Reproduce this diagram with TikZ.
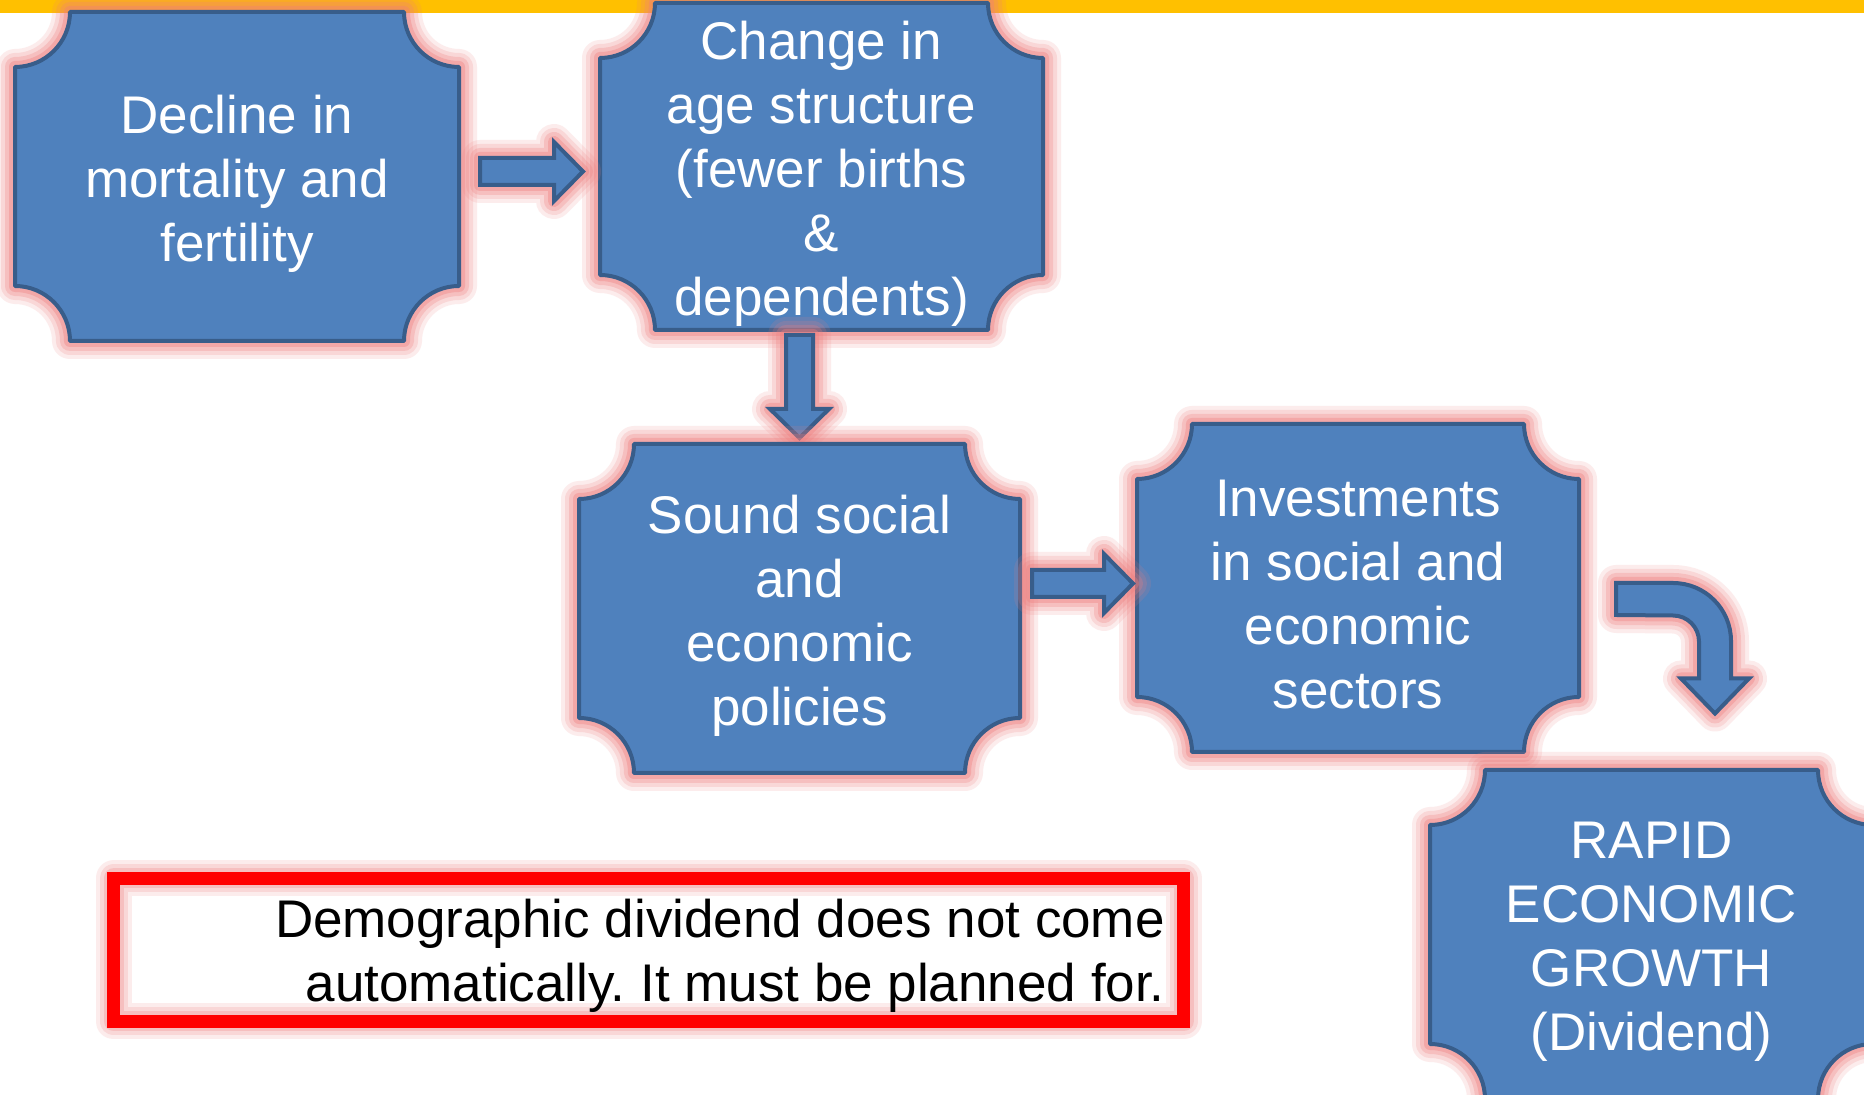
\documentclass[tikz,border=0pt]{standalone}
\usepackage{fontspec}
\setmainfont{Liberation Sans}
\usetikzlibrary{calc}
\frenchspacing
\definecolor{boxfill}{HTML}{4F81BD}
\definecolor{boxline}{HTML}{385D8A}
\definecolor{barc}{HTML}{FFC000}
\definecolor{glowc}{RGB}{238,125,125}
\newcommand{\plaquepath}[1]{([xshift=55pt]#1.north west) -- ([xshift=-55pt]#1.north east) arc[start angle=180,end angle=270,radius=55pt] -- ([yshift=55pt]#1.south east) arc[start angle=90,end angle=180,radius=55pt] -- ([xshift=55pt]#1.south west) arc[start angle=0,end angle=90,radius=55pt] -- ([yshift=-55pt]#1.north west) arc[start angle=270,end angle=360,radius=55pt] -- cycle}
\newcommand{\harrowpath}[2]{let \p1=(#1), \p2=(#2) in (\x1,\y2+13.5pt) -- (\x2-29pt,\y2+13.5pt) -- (\x2-29pt,\y2+29.5pt) -- (\x2,\y2) -- (\x2-29pt,\y2-29.5pt) -- (\x2-29pt,\y2-13.5pt) -- (\x1,\y2-13.5pt) -- cycle}
\newcommand{\varrowpath}[2]{let \p1=(#1), \p2=(#2) in (\x2-13.5pt,\y1) -- (\x2+13.5pt,\y1) -- (\x2+13.5pt,\y2+29pt) -- (\x2+29.5pt,\y2+29pt) -- (\x2,\y2) -- (\x2-29.5pt,\y2+29pt) -- (\x2-13.5pt,\y2+29pt) -- cycle}
\begin{document}
\begin{tikzpicture}[x=1pt,y=1pt,
  shapenode/.style={rectangle,inner sep=0pt,outer sep=0pt},
  boxshape/.style={fill=boxfill,draw=boxline,line width=4pt,line join=round},
  arrowshape/.style={fill=boxfill,draw=boxline,line width=4pt,line join=miter},
  glow/.style={
    preaction={draw=glowc,line width=36pt,opacity=0.14,line join=round},
    preaction={draw=glowc,line width=28pt,opacity=0.18,line join=round},
    preaction={draw=glowc,line width=20pt,opacity=0.26,line join=round},
    preaction={draw=glowc,line width=12pt,opacity=0.36,line join=round}},
  boxtext/.style={text=white,font=\fontsize{53}{64}\selectfont,align=center,inner sep=0pt},
  notetext/.style={text=black,font=\fontsize{53}{64}\selectfont,align=right,inner sep=0pt}]
\useasboundingbox (0,0) rectangle (1864,1095);
\clip (0,0) rectangle (1864,1095);
\fill[white] (0,0) rectangle (1864,1095);
\fill[barc] (0,1082.3) rectangle (1864,1095);
% shape nodes
\node[shapenode,minimum width=444pt,minimum height=329pt] (b1) at (237,918.5) {};
\node[shapenode,minimum width=443pt,minimum height=327pt] (b2) at (821.5,928.5) {};
\node[shapenode,minimum width=441pt,minimum height=329pt] (b3) at (799.5,486.5) {};
\node[shapenode,minimum width=442pt,minimum height=328pt] (b4) at (1358,507) {};
\node[shapenode,minimum width=443pt,minimum height=329pt] (b5) at (1651.5,160.5) {};
\node[shapenode,minimum width=1070pt,minimum height=143pt] (frame) at (648.5,145) {};
% connector end points
\coordinate (m1) at ($(b1.east)!0.5!(b2.west)$);
\coordinate (a1s) at ($(m1)+(-49.5,0)$);
\coordinate (a1t) at ($(m1)+(53.5,0)$);
\coordinate (a2s) at ($(b3.north |- b2.south)+(0,-5)$);
\coordinate (a2t) at ($(b3.north)+(0,6)$);
\coordinate (a3s) at ($(b3.east |- b4.west)+(12,4.5)$);
\coordinate (a3t) at ($(b4.west)+(-4,4.5)$);
\coordinate (c4s) at ($(b4.east)+(37,-11)$);
\coordinate (c4t) at ($(b5.north)+(63.5,56.5)$);
% drawing
\draw[boxshape,glow] \plaquepath{b1};
\draw[boxshape,glow] \plaquepath{b2};
\draw[arrowshape,glow] \harrowpath{a1s}{a1t};
\draw[arrowshape,glow] \varrowpath{a2s}{a2t};
\draw[boxshape,glow] \plaquepath{b3};
\draw[boxshape,glow] \plaquepath{b4};
\draw[arrowshape,glow] \harrowpath{a3s}{a3t};
\draw[arrowshape,glow] let \p1=(c4s), \p2=(c4t) in
  (\x1,\y1+16pt) -- (\x2-42pt,\y1+16pt) arc[start angle=90,end angle=0,radius=58pt]
  -- (\x2+16pt,\y2+35pt) -- (\x2+34pt,\y2+35pt) -- (\x2,\y2) -- (\x2-34pt,\y2+35pt)
  -- (\x2-16pt,\y2+35pt) -- (\x2-16pt,\y2+72pt) arc[start angle=0,end angle=90,radius=26pt]
  -- (\x1,\y1-16pt) -- cycle;
\draw[boxshape,glow] \plaquepath{b5};
\draw[draw=red,line width=13pt,glow] (frame.south west) rectangle (frame.north east);
% texts
\node[boxtext] (t1) at ([yshift=-7pt]b1.center) {Decline in\\mortality and\\fertility};
\node[boxtext] (t2) at ([yshift=-7pt]b2.center) {Change in\\age structure\\(fewer births\\\&\\dependents)};
\node[boxtext] (t3) at ([yshift=-7pt]b3.center) {Sound social\\and\\economic\\policies};
\node[boxtext] (t4) at ([yshift=-7pt]b4.center) {Investments\\in social and\\economic\\sectors};
\node[boxtext] (t5) at ([yshift=-7pt]b5.center) {RAPID\\ECONOMIC\\GROWTH\\(Dividend)};
\node[notetext,anchor=east] (note) at (1165,139) {Demographic dividend does not come\\automatically. It must be planned for.};
\end{tikzpicture}
\end{document}
